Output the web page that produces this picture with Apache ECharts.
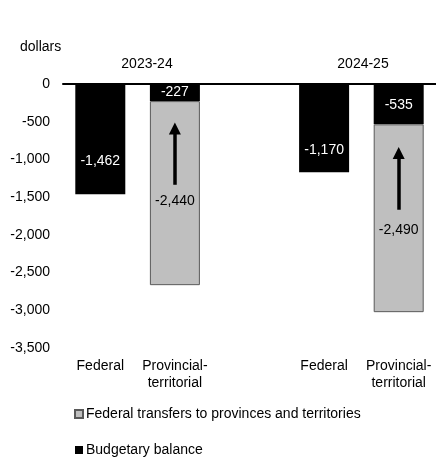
<!DOCTYPE html>
<html>
<head>
<meta charset="utf-8">
<script src="https://cdn.jsdelivr.net/npm/echarts@6/dist/echarts.min.js"></script>
<style>
  html, body { margin: 0; padding: 0; background: #fff; }
  #chart { width: 436px; height: 461px; }
</style>
</head>
<body>
<div id="chart"></div>
<script>
// Categories along the bottom; the empty slot separates the two fiscal years
const categories = ['Federal', 'Provincial-territorial', '', 'Federal', 'Provincial-territorial'];
const yearLabels = ['2023-24', '2024-25'];

// Values in dollars
const budgetaryBalance = [-1462, -227, null, -1170, -535];
const federalTransfers = [null, -2440, null, null, -2490];

// Arrows drawn inside the transfer bars: [category index, tail value, head-centre value]
const arrowSpans = [
  [1, -1336, -590],
  [4, -1667, -916]
];

// Value-axis ticks
const yMin = -3500;
const yMax = 0;
const yStep = 500;

// Vertical nudges (px) for the value labels
const balanceLabelShift = [22, 0, 0, 22, 1];
const transferLabelShift = [0, 8, 0, 0, 12];

const FONT = "'Liberation Sans', Arial, sans-serif";
const fmt = v => Number(v).toLocaleString('en-US');

const chart = echarts.init(document.getElementById('chart'), null, { renderer: 'canvas' });

const withShift = (arr, shifts) => arr.map((v, i) =>
  v == null ? null : { value: v, label: { offset: [0, shifts[i]] } });

const plainText = { fontSize: 14, fontWeight: 'normal', color: '#000', fontFamily: FONT };

chart.setOption({
  animation: false,
  backgroundColor: '#fff',
  textStyle: { fontFamily: FONT },
  title: [
    { text: 'dollars', left: 20, top: 40, padding: 0, textStyle: plainText },
    { text: yearLabels[0], left: 147, top: 57, padding: 0, textAlign: 'center', textStyle: plainText },
    { text: yearLabels[1], left: 363, top: 57, padding: 0, textAlign: 'center', textStyle: plainText }
  ],
  grid: { left: 63, right: -3, top: 84, bottom: 113, containLabel: false },
  legend: {
    orient: 'vertical',
    left: 74,
    top: 407,
    height: 80,
    padding: 0,
    itemWidth: 8,
    itemHeight: 8,
    itemGap: 22,
    icon: 'rect',
    data: ['Federal transfers to provinces and territories', 'Budgetary balance'],
    textStyle: { fontSize: 14, color: '#000', fontFamily: FONT, padding: [0, 0, 0, -2] }
  },
  xAxis: [
    {
      type: 'category',
      data: categories,
      position: 'bottom',
      axisLine: { show: false },
      axisTick: { show: false },
      axisLabel: {
        interval: 0,
        margin: 9,
        fontSize: 14,
        lineHeight: 17.5,
        color: '#000',
        fontFamily: FONT,
        formatter: v => v.replace('-', '-\n')
      }
    },
    {
      type: 'category',
      data: categories,
      position: 'top',
      axisLine: { show: true, onZero: false, lineStyle: { color: '#000', width: 2 } },
      axisTick: { show: false },
      axisLabel: { show: false }
    }
  ],
  yAxis: {
    type: 'value',
    min: yMin,
    max: yMax,
    interval: yStep,
    axisLine: { show: false },
    axisTick: { show: false },
    splitLine: { show: false },
    axisLabel: { fontSize: 14, color: '#000', margin: 13, fontFamily: FONT, formatter: fmt }
  },
  series: [
    {
      name: 'Budgetary balance',
      type: 'bar',
      stack: 'total',
      barWidth: 50,
      data: withShift(budgetaryBalance, balanceLabelShift),
      itemStyle: { color: '#000' },
      label: {
        show: true,
        position: 'inside',
        color: '#fff',
        fontSize: 14,
        fontFamily: FONT,
        formatter: p => fmt(p.value)
      }
    },
    {
      name: 'Federal transfers to provinces and territories',
      type: 'bar',
      stack: 'total',
      barWidth: 50,
      data: withShift(federalTransfers, transferLabelShift),
      itemStyle: { color: '#bfbfbf', borderColor: '#595959', borderWidth: 1 },
      label: {
        show: true,
        position: 'inside',
        color: '#000',
        fontSize: 14,
        fontFamily: FONT,
        formatter: p => fmt(p.value)
      },
      markLine: {
        silent: true,
        symbol: ['none', 'triangle'],
        symbolSize: [12, 12],
        label: { show: false },
        lineStyle: { color: '#000', width: 3.5, type: 'solid' },
        data: arrowSpans.map(([c, from, to]) => [
          { coord: [c, from], symbol: 'none' },
          { coord: [c, to], symbol: 'triangle' }
        ])
      }
    }
  ]
});
</script>
</body>
</html>
